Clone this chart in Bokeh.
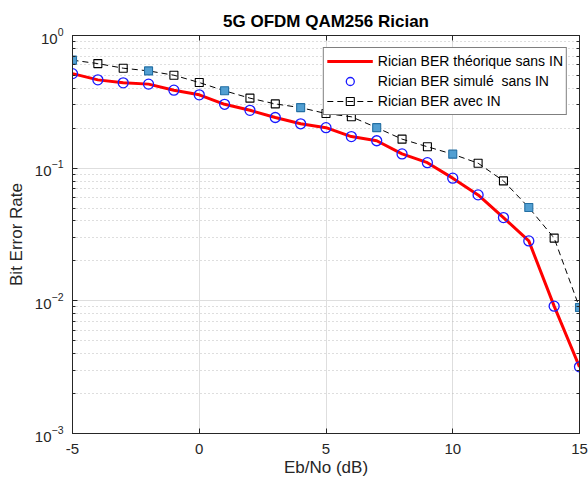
from bokeh.plotting import figure
from bokeh.models import (ColumnDataSource, FixedTicker, Legend, LegendItem,
                          LinearAxis, LogAxis, Range1d, CustomJSTickFormatter)
from bokeh.embed import file_html
from bokeh.resources import INLINE

# Eb/No grid (dB)
ebno = list(range(-5, 16))

# Rician BER without impulsive noise: theory and simulation
ber_theory = [0.516, 0.463, 0.440, 0.430, 0.387, 0.357, 0.303, 0.273, 0.241, 0.216,
              0.202, 0.173, 0.161, 0.128, 0.110, 0.0841, 0.0629, 0.0424, 0.0283,
              0.00912, 0.00318]
ber_sim = [0.516, 0.463, 0.440, 0.430, 0.387, 0.357, 0.303, 0.273, 0.241, 0.216,
           0.202, 0.173, 0.161, 0.128, 0.110, 0.0841, 0.0629, 0.0424, 0.0283,
           0.00912, 0.00318]
# Rician BER with impulsive noise
ber_in = [0.652, 0.614, 0.567, 0.541, 0.502, 0.442, 0.383, 0.337, 0.305, 0.286,
          0.258, 0.244, 0.202, 0.1655, 0.145, 0.1275, 0.109, 0.0802, 0.0505,
          0.0297, 0.0089]

x_ticks = [-5, 0, 5, 10, 15]
x_tick_labels = ["-5", "0", "5", "10", "15"]
y_decades = [1e-3, 1e-2, 1e-1, 1.0]

FONT = "Liberation Sans"
AX = "#262626"

n = len(ebno)
highlight = [(i % 3 == 0) or (i == n - 1) for i in range(n)]
src_in = ColumnDataSource(dict(
    x=ebno, y=ber_in,
    fill=["#529fd2" if h else "#ffffff" for h in highlight],
    falpha=[1.0 if h else 0.0 for h in highlight],
    lc=["#236fa3" if h else "#000000" for h in highlight],
))

p = figure(width=588, height=484, y_axis_type="log",
           x_range=Range1d(-5, 15), y_range=Range1d(1e-3, 1.0),
           output_backend="svg", toolbar_location=None,
           min_border_left=72, min_border_right=9,
           min_border_top=35, min_border_bottom=51)

p.title.text = "5G OFDM QAM256 Rician"
p.title.text_font = FONT
p.title.text_font_size = "17px"
p.title.text_font_style = "bold"
p.title.text_color = "#000000"
p.title.align = "center"

p.outline_line_color = AX
p.background_fill_color = "white"
p.border_fill_color = "white"

minor = [m * d for d in [1e-3, 1e-2, 1e-1] for m in range(2, 10)]
yt = FixedTicker(ticks=y_decades, minor_ticks=minor)
xt = FixedTicker(ticks=x_ticks)

p.xaxis.ticker = xt
p.yaxis.ticker = yt
for ax in (p.xaxis[0], p.yaxis[0]):
    ax.axis_line_color = AX
    ax.major_tick_line_color = AX
    ax.minor_tick_line_color = AX
    ax.major_tick_in = 5
    ax.major_tick_out = 0
    ax.minor_tick_in = 3
    ax.minor_tick_out = 0
    ax.major_label_text_font = FONT
    ax.major_label_text_font_size = "15px"
    ax.major_label_text_color = AX
    ax.axis_label_text_font = FONT
    ax.axis_label_text_font_size = "17px"
    ax.axis_label_text_font_style = "normal"
    ax.axis_label_text_color = AX
p.xaxis.minor_tick_line_color = None
p.xaxis.major_label_overrides = dict(zip(x_ticks, x_tick_labels))
p.xaxis.axis_label = "Eb/No (dB)"
p.yaxis.axis_label = "Bit Error Rate"
p.xaxis.major_label_standoff = 10
p.xaxis.axis_label_standoff = 1
p.yaxis.major_label_standoff = 9
p.yaxis.axis_label_standoff = 6

# box-style ticks on the opposite sides, without labels
blank = CustomJSTickFormatter(code="return ''")
right = LogAxis(ticker=yt, formatter=blank,
                major_tick_in=5, major_tick_out=0, minor_tick_in=3, minor_tick_out=0,
                axis_line_color=AX, major_tick_line_color=AX, minor_tick_line_color=AX,
                major_label_standoff=0)
top = LinearAxis(ticker=xt, formatter=blank,
                 major_tick_in=5, major_tick_out=0, minor_tick_line_color=None,
                 axis_line_color=AX, major_tick_line_color=AX,
                 major_label_standoff=0)
p.add_layout(right, "right")
p.add_layout(top, "above")

p.xgrid.ticker = xt
p.ygrid.ticker = yt
p.xgrid.grid_line_color = "#dedede"
p.ygrid.grid_line_color = "#dedede"
p.ygrid.minor_grid_line_color = "#bdbdbd"
p.ygrid.minor_grid_line_dash = "1 3"

r_theory = p.line(ebno, ber_theory, line_color="#ff0000", line_width=3)
r_sim = p.scatter(ebno, ber_sim, marker="circle", size=10,
                  line_color="#1a1aff", line_width=1.3, fill_alpha=0)
r_in_line = p.line("x", "y", source=src_in, line_color="#000000", line_width=1,
                   line_dash="6 4")
r_in_pts = p.scatter("x", "y", source=src_in, marker="square", size=8,
                     fill_color="fill", fill_alpha="falpha", line_color="lc",
                     line_width=1.1)

legend = Legend(items=[
    LegendItem(label="Rician BER théorique sans IN", renderers=[r_theory]),
    LegendItem(label="Rician BER simulé  sans IN", renderers=[r_sim]),
    LegendItem(label="Rician BER avec IN", renderers=[r_in_line, r_in_pts], index=1),
], location="top_right")
legend.label_text_font = FONT
legend.label_text_font_size = "14px"
legend.label_text_color = "#000000"
legend.border_line_color = "#000000"
legend.border_line_width = 1
legend.background_fill_alpha = 1
legend.padding = 3
legend.spacing = 0
legend.margin = 12
legend.label_height = 20
legend.glyph_height = 20
legend.glyph_width = 46
legend.label_standoff = 5
p.add_layout(legend)

open("out.html", "w").write(file_html(p, INLINE))
